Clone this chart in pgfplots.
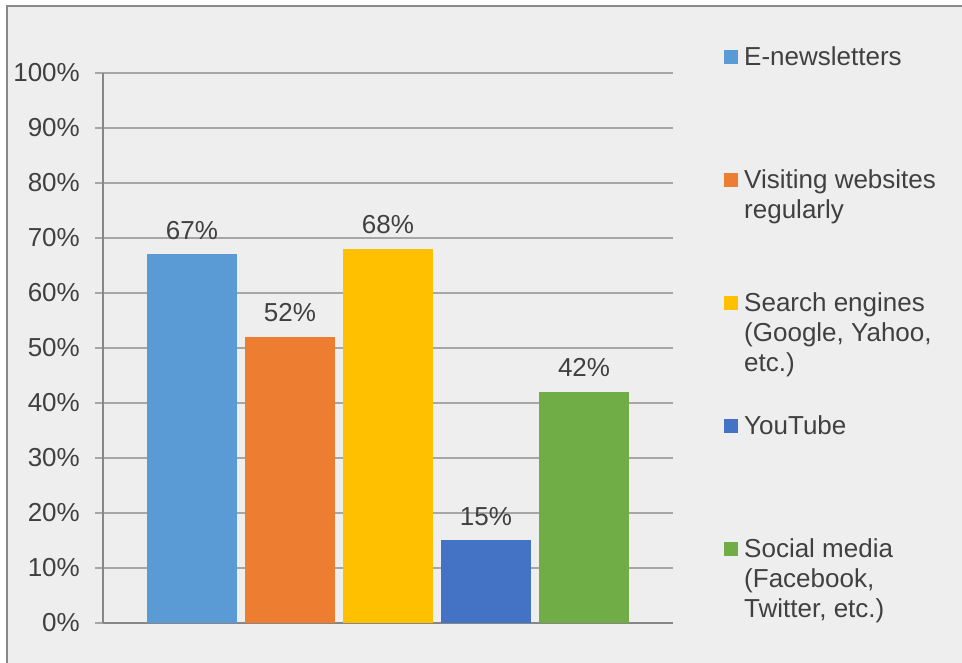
\documentclass[border=0pt]{standalone}
\usepackage{pgfplots}
\pgfplotsset{compat=1.18}
\usepackage{fontspec}
\setmainfont{Liberation Sans}
\definecolor{bg}{HTML}{EEEEEE}
\definecolor{bordercol}{HTML}{898989}
\definecolor{gridcol}{HTML}{A6A6A6}
\definecolor{axiscol}{HTML}{868686}
\definecolor{txt}{HTML}{404040}
\definecolor{c1}{HTML}{5B9BD5}
\definecolor{c2}{HTML}{ED7D31}
\definecolor{c3}{HTML}{FFC000}
\definecolor{c4}{HTML}{4472C4}
\definecolor{c5}{HTML}{70AD47}
\newcommand{\lgd}[1]{\vtop{#1}}
\newcommand{\fs}{\fontsize{26bp}{30bp}\selectfont}
\begin{document}
\begin{tikzpicture}
\useasboundingbox (0,0) rectangle (962bp,663bp);
\fill[bg] (7bp,0) rectangle (962bp,657bp);
\draw[bordercol, line width=1.2bp] (7bp,0) -- (7bp,657bp) -- (962bp,657bp);
\begin{axis}[
  at={(103bp,40bp)}, anchor=south west,
  scale only axis, width=570bp, height=550bp,
  xmin=-0.908, xmax=4.908, ymin=0, ymax=100,
  ybar, bar shift=0pt, bar width=0.918,
  clip=false,
  xtick=\empty,
  ytick={0,10,...,100},
  yticklabels={0\%,10\%,20\%,30\%,40\%,50\%,60\%,70\%,80\%,90\%,100\%},
  ymajorgrids, grid style={gridcol, line width=1.3bp},
  axis x line*=bottom, axis y line*=left,
  axis line style={axiscol, line width=1.3bp, -},
  ytick style={gridcol, line width=1.3bp},
  major tick length=8bp, tick align=outside,
  tick label style={font=\fs, text=txt},
  yticklabel style={inner sep=0pt, xshift=-15bp},
  nodes near coords={\pgfmathprintnumber[assume math mode=true]{\pgfplotspointmeta}\%},
  every node near coord/.append style={font=\fs, text=txt, inner sep=0pt, anchor=south, yshift=15bp},
  legend cell align=left,
  legend image code/.code={\fill[#1] (0bp,43.5bp) rectangle (14bp,57.5bp);},
  legend style={at={(1.0895,1.049)}, anchor=north west, draw=none, fill=none,
    inner sep=0pt, column sep=6bp, row sep=0pt, font=\fs,
    nodes={inner sep=0pt, text=txt, text height=19bp, text depth=104bp}},
]
\addplot[fill=c1, draw=none] coordinates {(0,67)};
\addlegendentry{\lgd{\hbox{E-newsletters}}}
\addplot[fill=c2, draw=none] coordinates {(1,52)};
\addlegendentry{\lgd{\hbox{Visiting websites}\hbox{regularly}}}
\addplot[fill=c3, draw=none] coordinates {(2,68)};
\addlegendentry{\lgd{\hbox{Search engines}\hbox{(Google, Yahoo,}\hbox{etc.)}}}
\addplot[fill=c4, draw=none] coordinates {(3,15)};
\addlegendentry{\lgd{\hbox{YouTube}}}
\addplot[fill=c5, draw=none] coordinates {(4,42)};
\addlegendentry{\lgd{\hbox{Social media}\hbox{(Facebook,}\hbox{Twitter, etc.)}}}
\end{axis}
\end{tikzpicture}
\end{document}
